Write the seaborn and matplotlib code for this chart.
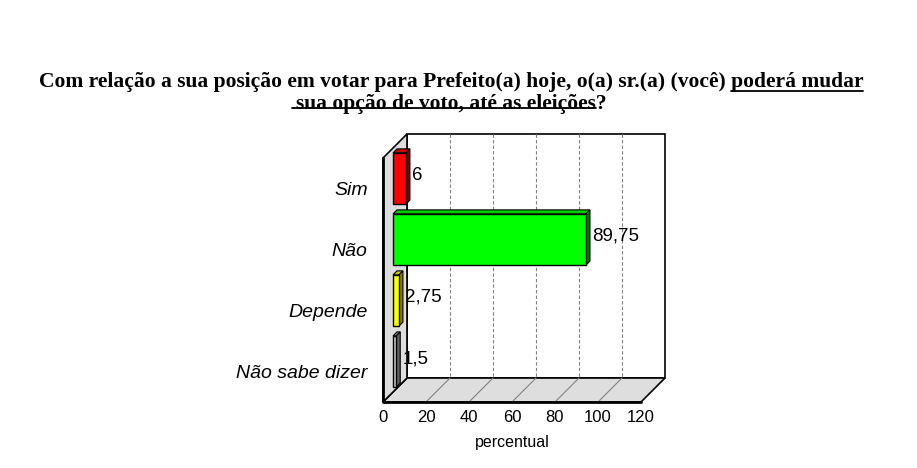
import matplotlib
matplotlib.use("Agg")
import matplotlib.pyplot as plt
import matplotlib.transforms as mtransforms
from matplotlib.patches import Polygon
from matplotlib.lines import Line2D
from matplotlib.font_manager import FontProperties
import seaborn as sns

categories = ["Sim", "Não", "Depende", "Não sabe dizer"]
values = [6, 89.75, 2.75, 1.5]
value_labels = ["6", "89,75", "2,75", "1,5"]
front_colors = ["#ff0000", "#00ff00", "#ffff00", "#c8c8c8"]
top_colors = ["#d00000", "#00cc00", "#cccc00", "#a0a0a0"]
side_colors = ["#800000", "#008000", "#808000", "#606060"]
x_ticks = [0, 20, 40, 60, 80, 100, 120]

title_1 = "Com relação a sua posição em votar para Prefeito(a) hoje, o(a) sr.(a) (você) "
title_1u = "poderá mudar"
title_2u = "sua opção de voto, até as eleições"
title_2 = "?"

sns.set_style("white")
plt.rcParams["font.family"] = ["Liberation Sans", "DejaVu Sans"]
for k in ["text.color", "axes.labelcolor", "xtick.color", "ytick.color"]:
    plt.rcParams[k] = "black"

W, H, DPI = 917, 468, 100
fig = plt.figure(figsize=(W / DPI, H / DPI), dpi=DPI)
ax = fig.add_axes([383 / W, (H - 402) / H, 258 / W, 244 / H])

sns.barplot(x=values, y=categories, hue=categories, palette=front_colors,
            orient="h", width=0.84, saturation=1, legend=False,
            edgecolor="black", linewidth=1, ax=ax, zorder=3)
bars = list(ax.patches)
ax.set_xlim(0, 120)
ax.set_ylim(3.5, -0.5)

DEPTH = 24          # wall depth in pixels
BAR_FRONT = 10      # bar front face depth
BAR_BACK = 14       # bar back face depth


def shift(d, dx=None):
    dx = d if dx is None else dx
    return ax.transData + mtransforms.ScaledTranslation(dx / DPI, d / DPI, fig.dpi_scale_trans)


def proj(x, y, d):
    px, py = ax.transData.transform((x, y))
    return (px + d, py + d)


def face(pts, fc, z, lw=1.0, ec="black"):
    p = Polygon(pts, closed=True, facecolor=fc, edgecolor=ec, linewidth=lw,
                transform=mtransforms.IdentityTransform(), clip_on=False, zorder=z)
    ax.add_artist(p)


# walls
y0, y1 = ax.get_ylim()[1], ax.get_ylim()[0]
x0, x1 = ax.get_xlim()
face([proj(x0, y0, DEPTH), proj(x1, y0, DEPTH), proj(x1, y1, DEPTH), proj(x0, y1, DEPTH)], "white", 0.5, 1.2)
face([proj(x0, y1, 0), proj(x1, y1, 0), proj(x1, y1, DEPTH), proj(x0, y1, DEPTH)], "#dedede", 0.6, 1.2)
face([proj(x0, y0, 0), proj(x0, y0, DEPTH), proj(x0, y1, DEPTH), proj(x0, y1, 0)], "#dedede", 0.6, 1.2)
# thick front edges
a, b, c = proj(x0, y0, 0), proj(x0, y1, 0), proj(x1, y1, 0)
ax.add_artist(Line2D([a[0], b[0], c[0]], [a[1], b[1], c[1]], color="black", lw=2,
                     transform=mtransforms.IdentityTransform(), clip_on=False, zorder=0.7))

for g in x_ticks[1:-1]:
    a, b = proj(g, y0, DEPTH), proj(g, y1, DEPTH)
    ax.add_artist(Line2D([a[0], b[0]], [a[1], b[1]], color="#808080", lw=0.8,
                         linestyle=(0, (3, 2)), transform=mtransforms.IdentityTransform(),
                         clip_on=False, zorder=0.55))
    a, b = proj(g, y1, 0), proj(g, y1, DEPTH)
    ax.add_artist(Line2D([a[0], b[0]], [a[1], b[1]], color="#808080", lw=0.8,
                         transform=mtransforms.IdentityTransform(), clip_on=False, zorder=0.65))

# bars: move front faces back, add top and side faces
for bar in bars:
    bar.set_transform(shift(BAR_FRONT))
    bar.set_clip_on(False)

for i, v in enumerate(values):
    top, bot = i - 0.42, i + 0.42
    face([proj(0, top, BAR_FRONT), proj(v, top, BAR_FRONT), proj(v, top, BAR_BACK), proj(0, top, BAR_BACK)],
         top_colors[i], 2.5, 0.8)
    face([proj(v, top, BAR_FRONT), proj(v, bot, BAR_FRONT), proj(v, bot, BAR_BACK), proj(v, top, BAR_BACK)],
         side_colors[i], 2.5, 0.8)
    ax.text(v, i, value_labels[i], transform=shift(13, 16), ha="left", va="center",
            fontsize=13.5, zorder=4)

sns.despine(ax=ax, left=True, bottom=True)
ax.patch.set_visible(False)
ax.set_xticks(x_ticks)
ax.set_xticklabels([str(t) for t in x_ticks], fontsize=12)
ax.tick_params(axis="x", length=0, pad=6)
ax.tick_params(axis="y", length=0, pad=11)
for lab in ax.get_yticklabels():
    lab.set_fontsize(14)
    lab.set_fontstyle("italic")
ax.set_ylabel("")
ax.set_xlabel("percentual", fontsize=11.5, labelpad=7)

# title (two lines in one text) with underlined parts
tprop = FontProperties(family=["Liberation Serif", "DejaVu Serif"], weight="bold", size=15.5)
r = fig.canvas.get_renderer()
line1 = title_1 + title_1u
line2 = title_2u + title_2
w1, h1, d1 = r.get_text_width_height_descent(line1, tprop, ismath=False)
w2, h2, d2 = r.get_text_width_height_descent(line2, tprop, ismath=False)
wu1 = r.get_text_width_height_descent(title_1u, tprop, ismath=False)[0]
wq = r.get_text_width_height_descent(title_2, tprop, ismath=False)[0]
hl, _, dl = r.get_text_width_height_descent("lp", tprop, ismath=False)
base1, base2 = H - 87, H - 103.5
spacing = (base1 - base2) / max(hl - dl, h2 - d2)
cx = 451
fig.text(cx / W, (base1 + h1 - d1) / H, line1 + "\n" + line2, ha="center", va="top",
         multialignment="center", linespacing=spacing, fontproperties=tprop)
for xa, xb, yb in [(cx + w1 / 2 - wu1, cx + w1 / 2, base1 - 4),
                   (cx - w2 / 2 - 4, cx + w2 / 2 - wq, base2 - 4)]:
    fig.add_artist(Line2D([xa, xb], [yb, yb], color="black", lw=1.3,
                          transform=mtransforms.IdentityTransform()))

fig.savefig("out.png", dpi=DPI)
